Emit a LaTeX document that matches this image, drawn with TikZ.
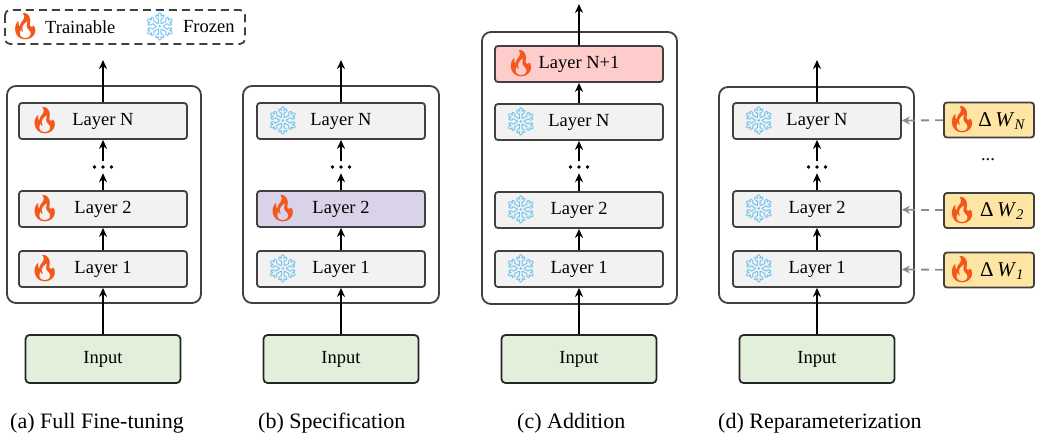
\documentclass[tikz,border=0pt]{standalone}
\usepackage{fontspec}
\setmainfont{Liberation Serif}
\newfontfamily\emojifont{Noto Emoji}
\usetikzlibrary{arrows.meta,calc}
\definecolor{edge}{HTML}{404040}
\definecolor{layerfill}{HTML}{F2F2F2}
\definecolor{specfill}{HTML}{D9D2E9}
\definecolor{addfill}{HTML}{FFCCCC}
\definecolor{deltafill}{HTML}{FFE5A3}
\definecolor{inputfill}{HTML}{E2EFDA}
\definecolor{firecol}{HTML}{F2581B}
\definecolor{icecol}{HTML}{72C4EE}
\definecolor{dashgray}{HTML}{8C8C8C}
\newcommand{\fire}{{\emojifont\fontsize{26}{26}\selectfont\color{firecol}🔥}}
\newcommand{\ice}{{\emojifont\fontsize{28}{28}\selectfont\color{icecol}❄}}
\tikzset{
  x=1pt, y=-1pt,
  outerbox/.style={draw=edge, line width=1.8pt, rounded corners=9pt, fill=white},
  layerbox/.style={draw=edge, line width=1.8pt, rounded corners=3pt, fill=layerfill,
    minimum width=168pt, minimum height=36pt, inner sep=0pt,
    font=\fontsize{18.5}{22}\selectfont},
  inputbox/.style={draw=black!85, line width=1.8pt, rounded corners=4pt, fill=inputfill,
    minimum width=155pt, minimum height=48pt, inner sep=0pt,
    font=\fontsize{18.5}{22}\selectfont},
  deltabox/.style={draw=edge, line width=1.8pt, rounded corners=3pt, fill=deltafill,
    minimum width=90pt, minimum height=35pt, inner sep=0pt},
  dotsnode/.style={minimum width=26pt, minimum height=12pt, inner sep=0pt},
  flow/.style={line width=1.8pt, -{Stealth[length=9pt,width=8pt]}},
  delta/.style={draw=dashgray, line width=1.8pt, dash pattern=on 8pt off 6pt,
    -{Stealth[length=8pt,width=8pt]}},
  caption/.style={anchor=west, inner sep=0pt, font=\fontsize{22}{26}\selectfont},
  legendtext/.style={anchor=west, inner sep=0pt, font=\fontsize{18.5}{22}\selectfont},
  icon/.style={inner sep=0pt},
}
\newcommand{\threedots}[1]{%
  \fill ($(#1)+(-8.5,0)$) circle (1.8pt);
  \fill ($(#1)+(0,0)$) circle (1.8pt);
  \fill ($(#1)+(8.5,0)$) circle (1.8pt);}
\begin{document}
\begin{tikzpicture}
\useasboundingbox (0,0) rectangle (1037,441);

% legend
\draw[edge, line width=1.8pt, dash pattern=on 8pt off 5pt, rounded corners=5pt] (5,10) rectangle (245,44);
\node[icon] (lf) at (25.5,27) {\fire};
\node[legendtext] (lt) at (45,27) {Trainable};
\node[icon] (li) at (160,27) {\ice};
\node[legendtext] (lz) at (183,27) {Frozen};

% ---------- (a) ----------
\draw[outerbox] (7,86) rectangle (201,303);
\node[layerbox] (aN) at (103,121) {Layer N};
\node[layerbox] (a2) at (103,209) {Layer 2};
\node[layerbox] (a1) at (103,269) {Layer 1};
\node[icon] at ($(aN)+(-58,0)$) {\fire};
\node[icon] at ($(a2)+(-58,0)$) {\fire};
\node[icon] at ($(a1)+(-58,0)$) {\fire};
\node[dotsnode] (ad) at (103,167) {};
\threedots{ad}
\node[inputbox] (ain) at (103,359) {Input};
\coordinate (aout) at (103,60);
\draw[flow] (ain) -- (a1);
\draw[flow] (a1) -- (a2);
\draw[flow] (a2) -- (ad);
\draw[flow] (ad) -- (aN);
\draw[flow] (aN) -- (aout);

% ---------- (b) ----------
\draw[outerbox] (243,86) rectangle (439,303);
\node[layerbox] (bN) at (341,121) {Layer N};
\node[layerbox, fill=specfill] (b2) at (341,209) {Layer 2};
\node[layerbox] (b1) at (341,269) {Layer 1};
\node[icon] at ($(bN)+(-58,0)$) {\ice};
\node[icon] at ($(b2)+(-58,0)$) {\fire};
\node[icon] at ($(b1)+(-58,0)$) {\ice};
\node[dotsnode] (bd) at (341,167) {};
\threedots{bd}
\node[inputbox] (bin) at (341,359) {Input};
\coordinate (bout) at (341,60);
\draw[flow] (bin) -- (b1);
\draw[flow] (b1) -- (b2);
\draw[flow] (b2) -- (bd);
\draw[flow] (bd) -- (bN);
\draw[flow] (bN) -- (bout);

% ---------- (c) ----------
\draw[outerbox] (482,32) rectangle (677,304);
\node[layerbox, fill=addfill] (cA) at (579,64) {Layer N+1};
\node[layerbox] (cN) at (579,122) {Layer N};
\node[layerbox] (c2) at (579,210) {Layer 2};
\node[layerbox] (c1) at (579,269) {Layer 1};
\node[icon] at ($(cA)+(-58,0)$) {\fire};
\node[icon] at ($(cN)+(-58,0)$) {\ice};
\node[icon] at ($(c2)+(-58,0)$) {\ice};
\node[icon] at ($(c1)+(-58,0)$) {\ice};
\node[dotsnode] (cd) at (579,167) {};
\threedots{cd}
\node[inputbox] (cin) at (579,359) {Input};
\coordinate (cout) at (579,4);
\draw[flow] (cin) -- (c1);
\draw[flow] (c1) -- (c2);
\draw[flow] (c2) -- (cd);
\draw[flow] (cd) -- (cN);
\draw[flow] (cN) -- (cA);
\draw[flow] (cA) -- (cout);

% ---------- (d) ----------
\draw[outerbox] (719,87) rectangle (914,303);
\node[layerbox] (dN) at (817,121) {Layer N};
\node[layerbox] (d2) at (817,209) {Layer 2};
\node[layerbox] (d1) at (817,269) {Layer 1};
\node[icon] at ($(dN)+(-58,0)$) {\ice};
\node[icon] at ($(d2)+(-58,0)$) {\ice};
\node[icon] at ($(d1)+(-58,0)$) {\ice};
\node[dotsnode] (dd) at (817,167) {};
\threedots{dd}
\node[inputbox] (din) at (817,359) {Input};
\coordinate (dout) at (817,60);
\draw[flow] (din) -- (d1);
\draw[flow] (d1) -- (d2);
\draw[flow] (d2) -- (dd);
\draw[flow] (dd) -- (dN);
\draw[flow] (dN) -- (dout);

\node[deltabox] (wN) at (989,120) {};
\node[deltabox] (w2) at (989,210.5) {};
\node[deltabox] (w1) at (989,270) {};
\foreach \w/\s in {wN/N, w2/2, w1/1}{
  \node[icon] at ($(\w)+(-27,0)$) {\fire};
  \node[inner sep=0pt, font=\fontsize{21}{24}\selectfont] at ($(\w)+(13,1)$) {Δ\,\textit{W}\textsubscript{\textit{\s}}};
}
\node[inner sep=0pt, font=\fontsize{18.5}{22}\selectfont] (wd) at (988,160) {...};
\draw[delta] (wN) -- (dN);
\draw[delta] (w2) -- (d2);
\draw[delta] (w1) -- (d1);

% captions
\node[caption] (capa) at (10,423) {(a) Full Fine-tuning};
\node[caption] (capb) at (258,423) {(b) Specification};
\node[caption] (capc) at (517,423) {(c) Addition};
\node[caption] (capd) at (718,423) {(d) Reparameterization};
\end{tikzpicture}
\end{document}
